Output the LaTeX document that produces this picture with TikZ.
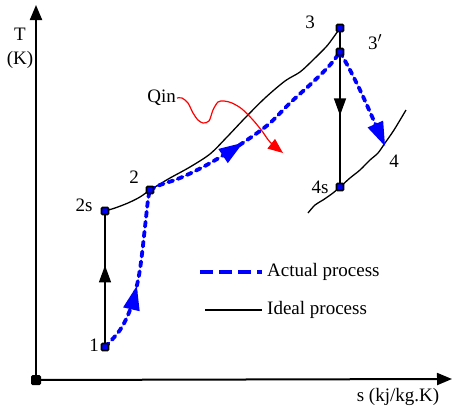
\documentclass[tikz,border=0pt]{standalone}
\usepackage{fontspec}
\setmainfont{Liberation Serif}
\usetikzlibrary{arrows.meta,decorations.markings}
\begin{document}
\begin{tikzpicture}[x=1pt,y=-1pt,
  lbl/.style={font=\fontsize{19}{22}\selectfont, inner sep=1pt},
  axis/.style={line width=2pt,-{Triangle[length=15pt,width=12pt]}},
  ideal/.style={line width=1.3pt,black},
  actual/.style={line width=3.8pt,blue,dash pattern=on 5pt off 5pt,line cap=round},
  pt/.style={draw=black,fill=blue,line width=1.6pt,rounded corners=1pt,minimum size=7pt,inner sep=0pt,rectangle},
  bigtip/.style={Triangle[length=24pt,width=17pt,line width=0pt]},
  midarrow/.style={postaction={decorate,decoration={markings,mark=at position #1 with {\arrow[solid]{Triangle[length=24pt,width=17pt,line width=0pt]}}}}},
  heat/.style={red,line width=1.2pt}]
\useasboundingbox (0,0) rectangle (453,410);
% axes
\coordinate (O) at (36,380);
\coordinate (ytip) at (36,5);
\coordinate (xtip) at (452,379);
\draw[axis] (O) -- (ytip);
\draw[axis] (O) -- (xtip);
\node[fill=black,rounded corners=1.5pt,minimum size=10pt,inner sep=0pt] (origin) at (36,380) {};
\node[lbl] (tl) at (20,34) {T};
\node[lbl] (kl) at (20,60) {(K)};
\node[lbl] (sl) at (398,397) {s (kj/kg.K)};
% points
\coordinate (c1) at (105,347);
\coordinate (c2s) at (105,211);
\coordinate (c2) at (150,190);
\coordinate (c3) at (340,28);
\coordinate (c3p) at (340,52);
\coordinate (c4s) at (340,187);
\coordinate (c4) at (385,146);
\coordinate (e4a) at (308,213);
\coordinate (e4b) at (406,110);
% ideal lines
\draw[ideal] plot[smooth,tension=0.5] coordinates {(c2s) (115,208) (128,203) (140,197) (c2) (160,184) (170,178) (190,167) (210,154) (227,137) (245,118) (265,98) (285,81) (300,72) (313,60) (326,47) (333,38) (c3)};
\draw[ideal] plot[smooth,tension=0.5] coordinates {(e4a) (315,205) (323,200) (333,193) (c4s) (350,178) (360,170) (370,160) (378,153) (385,143) (394,130) (e4b)};
\draw[ideal,postaction={decorate,decoration={markings,mark=at position 0.6 with {\arrow{Triangle[length=17pt,width=12pt]}}}}] (c1) -- (c2s);
\draw[ideal,postaction={decorate,decoration={markings,mark=at position 0.55 with {\arrow{Triangle[length=17pt,width=12pt]}}}}] (c3) -- (c4s);
% actual lines
\draw[actual,midarrow=0.42] plot[smooth,tension=0.6] coordinates {(c1) (120,330) (130,310) (137,285) (141,262) (145,227) (148,200) (c2)};
\draw[actual,midarrow=0.44] plot[smooth,tension=0.6] coordinates {(c2) (160,185) (180,178) (203,167) (227,153) (250,138) (270,123) (290,103) (313,82) (330,65) (c3p)};
\draw[actual,-{Triangle[length=24pt,width=17pt,line width=0pt]}] plot[smooth,tension=0.6] coordinates {(c3p) (350,70) (360,90) (370,112) (c4)};
% heat input
\node[lbl,anchor=east] (qin) at (177,98) {Qin};
\draw[heat,-{Triangle[length=15pt,width=12pt]}] plot[smooth,tension=0.5] coordinates {(qin.east) (182,98) (188,103) (193,113) (198,120) (203,123) (209,121) (213,110) (218,102) (224,101) (232,103) (242,109) (253,120) (262,131) (270,142) (283,153)};
% markers
\node[pt] (n1) at (c1) {};
\node[pt] (n2s) at (c2s) {};
\node[pt] (n2) at (c2) {};
\node[pt] (n3) at (c3) {};
\node[pt] (n3p) at (c3p) {};
\node[pt] (n4s) at (c4s) {};
% labels
\node[lbl] (l1) at (94,345) {1};
\node[lbl] (l2s) at (84,205) {2s};
\node[lbl] (l2) at (134,177) {2};
\node[lbl] (l3) at (310,22) {3};
\node[lbl] (l3p) at (375,42) {3$'$};
\node[lbl] (l4s) at (320,187) {4s};
\node[lbl] (l4) at (394,161) {4};
% legend
\coordinate (la1) at (200,272);
\coordinate (la2) at (262,272);
\coordinate (li1) at (205,310);
\coordinate (li2) at (262,310);
\draw[line width=3.8pt,blue,dash pattern=on 13pt off 6pt] (la1) -- (la2);
\draw[ideal] (li1) -- (li2);
\node[lbl,anchor=west] (lega) at (266,272) {Actual process};
\node[lbl,anchor=west] (legi) at (266,310) {Ideal process};
\end{tikzpicture}
\end{document}
